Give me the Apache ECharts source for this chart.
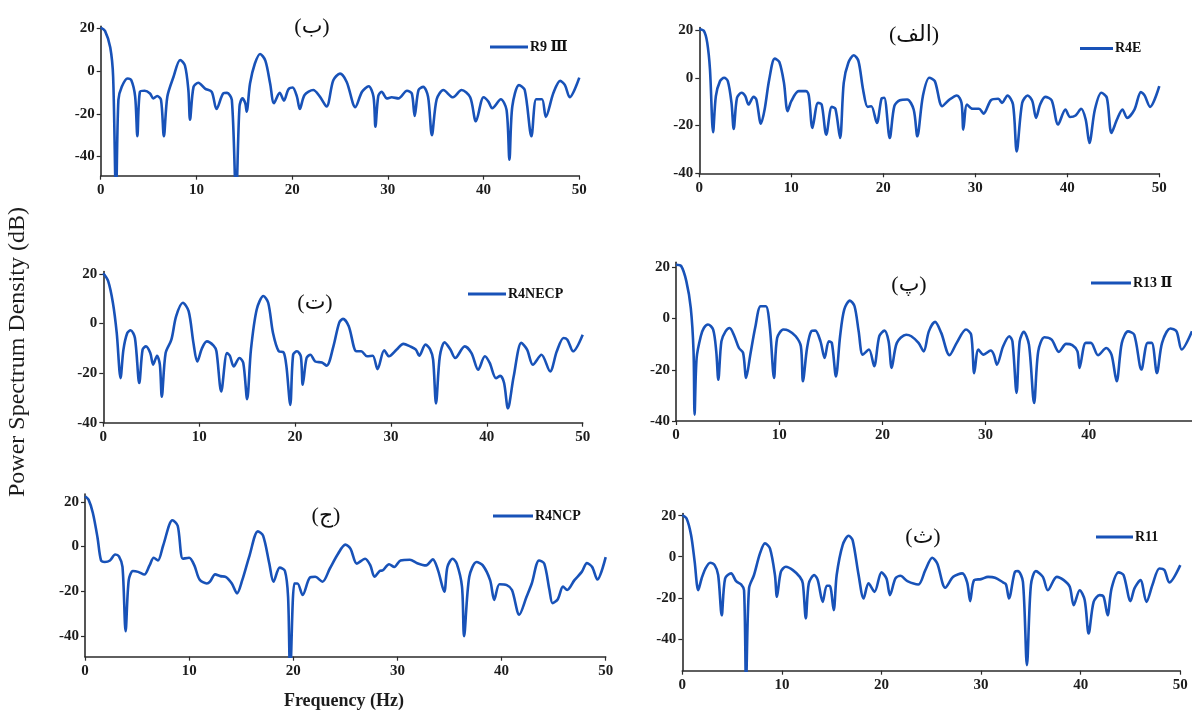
<!DOCTYPE html>
<html>
<head>
<meta charset="utf-8">
<script src="https://cdn.jsdelivr.net/npm/echarts@6/dist/echarts.min.js"></script>
<style>
html,body{margin:0;padding:0;background:#fff;}
#chart{width:1192px;height:713px;}
</style>
</head>
<body>
<div id="chart"></div>
<script>
// ---------- DATA (frequency Hz, PSD dB) ----------
const xTicks = [0, 10, 20, 30, 40, 50];
const yTicks = [-40, -20, 0, 20];

const seriesNames = ['R9 Ⅲ', 'R4E', 'R4NECP', 'R13 Ⅱ', 'R4NCP', 'R11'];
const panelTags = ['(ب)', '(الف)', '(ت)', '(پ)', '(ج)', '(ث)'];

const psdR9 = [[0,20.3],[0.45,18.8],[1.0,11],[1.3,-2.8],[1.6,-60],[1.85,-13.5],[2.2,-7.4],[2.8,-3.5],[3.2,-4.3],[3.6,-12],[3.83,-30.5],[4.1,-9.7],[4.6,-9.2],[5.15,-10.5],[5.5,-12.8],[5.9,-11.7],[6.3,-13.5],[6.6,-30.5],[6.96,-12],[7.6,-2.8],[8.3,5.2],[8.8,2.6],[9.16,-8.9],[9.33,-22.8],[9.7,-7.4],[10.2,-5.5],[10.9,-8.2],[11.6,-9.7],[12.1,-17.8],[12.8,-10.5],[13.2,-10.2],[13.7,-13.5],[14.14,-60],[14.5,-16.6],[14.8,-12.8],[15.1,-15],[15.25,-19],[15.6,-5.8],[16.1,3.4],[16.65,8],[17.2,4.9],[17.7,-5.8],[18.1,-15],[18.7,-10.2],[19.15,-13.8],[19.6,-8.6],[20.05,-7.7],[20.5,-12],[20.8,-17.8],[21.3,-11.2],[22.2,-8.9],[22.9,-12],[23.6,-16.6],[24.3,-4.3],[25.0,-1.2],[25.7,-5.1],[26.6,-16.9],[27.3,-9.7],[28.0,-7.1],[28.5,-12],[28.7,-26],[29.0,-11.7],[29.35,-9.7],[29.9,-12.8],[30.4,-12.3],[31.1,-12.8],[32.0,-9.2],[32.5,-10.5],[32.8,-21],[33.2,-8.9],[33.7,-7.4],[34.2,-12],[34.6,-30],[35.1,-13.2],[35.8,-8.9],[36.8,-12.3],[37.7,-8.9],[38.6,-12.3],[39.2,-23.5],[40.0,-12.3],[40.5,-14.3],[40.9,-17.4],[41.8,-13.2],[42.4,-18.2],[42.7,-41.5],[43.0,-16.6],[43.7,-6.6],[44.3,-8.9],[45.0,-30.5],[45.5,-13.2],[46.1,-13.2],[46.5,-21.5],[47.3,-10.2],[48.0,-4.6],[48.5,-6.6],[49.0,-12.3],[50,-3.1]];

const psdR4E = [[0,20.3],[0.5,19.6],[0.86,14.7],[1.16,3.5],[1.5,-22.8],[1.8,-7.7],[2.25,-1.4],[2.7,0],[3.1,-1.4],[3.5,-10.5],[3.74,-21.4],[4.1,-8.4],[4.6,-6.3],[5.0,-7.7],[5.35,-11.2],[5.9,-8],[6.2,-9.1],[6.7,-19.2],[7.1,-13.3],[7.6,-0.7],[8.2,8],[8.7,6.6],[9.2,-2.1],[9.6,-14],[10.0,-9.8],[10.8,-5.6],[11.6,-5.6],[11.9,-7.4],[12.3,-21],[12.9,-10.5],[13.3,-11.2],[13.8,-23.8],[14.4,-12.2],[14.8,-13],[15.3,-25.2],[15.7,-2.1],[16.2,6.3],[16.8,9.4],[17.3,7],[17.8,-4.9],[18.3,-12.2],[18.7,-11.9],[19.3,-18.9],[19.8,-8.8],[20.1,-8.4],[20.7,-25.2],[21.2,-11.9],[21.8,-9.4],[22.6,-9.1],[23.3,-13.3],[23.7,-24.5],[24.3,-7.7],[25.0,0],[25.6,-1.4],[26.4,-11.9],[27.2,-9.1],[28.0,-7.4],[28.5,-10.5],[28.7,-21.7],[29.1,-11.2],[29.7,-13],[30.4,-13],[30.9,-15],[31.7,-9.4],[32.5,-8.8],[32.9,-10.5],[33.5,-7.4],[34.1,-11.2],[34.5,-30.8],[35.1,-10.5],[35.7,-7.4],[36.2,-9.8],[36.6,-16.8],[37.05,-11.2],[37.6,-8],[38.3,-9.4],[39.0,-19.6],[39.8,-13.3],[40.3,-16.4],[40.9,-15.8],[41.5,-13],[42.0,-17.5],[42.4,-27.3],[43.0,-13.3],[43.7,-6.3],[44.3,-8.4],[44.8,-23.1],[45.4,-17.5],[46.0,-13.3],[46.5,-16.8],[47.3,-13.3],[48.0,-6],[48.4,-7.4],[49.0,-12.2],[50,-3.5]];

const psdR4NECP = [[0,20.3],[0.5,17.2],[1.0,8.4],[1.4,-3.8],[1.8,-22],[2.1,-10.5],[2.5,-3.8],[2.85,-2.7],[3.3,-5.8],[3.75,-24],[4.1,-10.5],[4.45,-9.2],[4.9,-11.9],[5.2,-16.6],[5.6,-13],[5.9,-16.6],[6.1,-29.5],[6.5,-11.9],[7.1,-6.5],[7.6,3],[8.3,8.4],[8.9,5],[9.4,-7.8],[9.8,-15.3],[10.3,-9.9],[10.8,-7.2],[11.5,-8.9],[11.8,-11.2],[12.3,-27.4],[12.9,-11.9],[13.2,-13],[13.6,-17.3],[14.2,-13.9],[14.6,-15.9],[15.0,-30.5],[15.4,-10.5],[16.0,5.7],[16.7,11.1],[17.2,8.4],[17.7,-3.8],[18.3,-11.2],[18.8,-11.6],[19.1,-17.3],[19.5,-32.8],[19.8,-12.6],[20.2,-11.2],[20.6,-13.2],[20.8,-24.7],[21.2,-13.9],[21.6,-12.6],[22.1,-15.3],[22.8,-15.7],[23.3,-17],[24.0,-9.2],[24.6,0.3],[25.0,1.9],[25.6,-1.1],[26.4,-11.2],[26.9,-11.2],[27.5,-13.2],[28.1,-13],[28.6,-18.4],[29.3,-10.8],[29.8,-13.2],[30.6,-10.5],[31.3,-8.2],[32.0,-9.2],[32.6,-10.5],[32.95,-13],[33.6,-8.5],[34.1,-10.5],[34.4,-14.6],[34.7,-32.2],[35.1,-13.2],[35.6,-7.6],[36.2,-10.5],[36.7,-13.9],[37.7,-9.2],[38.4,-11.9],[39.1,-18.6],[39.8,-13.2],[40.3,-15.9],[40.96,-22],[41.4,-21.1],[41.8,-24],[42.2,-34.2],[42.8,-21.4],[43.6,-7.8],[44.2,-10.5],[44.8,-16.6],[45.7,-12.6],[46.6,-19.3],[47.3,-11.2],[48.0,-5.8],[48.4,-6.5],[49.0,-11.2],[50,-4.5]];

const psdR13 = [[0,21],[0.5,20.5],[1.0,14.6],[1.43,4.2],[1.7,-12.8],[1.8,-37.5],[2.0,-15.4],[2.4,-6.9],[2.7,-3.7],[3.1,-2.3],[3.6,-4.3],[3.9,-12.8],[4.1,-23.9],[4.4,-8.9],[4.8,-5],[5.2,-3.7],[5.6,-6.3],[6.1,-11.5],[6.5,-13.4],[6.8,-23.2],[7.2,-14.1],[7.7,-3],[8.2,4.8],[8.7,4.8],[9.1,-3.7],[9.5,-23.2],[9.8,-7.6],[10.4,-4.3],[10.9,-4.7],[11.6,-6.9],[12.1,-10.8],[12.3,-24.5],[12.7,-11.5],[13.1,-5],[13.5,-4.7],[14.0,-8.9],[14.4,-15.4],[14.8,-8.9],[15.1,-9.5],[15.5,-22.6],[15.9,-6.9],[16.3,3.5],[16.85,7],[17.3,4.8],[17.7,-5],[18.1,-14.1],[18.7,-12.1],[19.2,-18.6],[19.7,-6.9],[20.2,-4.7],[20.6,-8.9],[20.9,-19.3],[21.4,-9.5],[22.3,-6.3],[22.8,-6.9],[23.5,-9.5],[24.0,-12.8],[24.5,-5],[25.1,-1.3],[25.7,-5.6],[26.5,-14.3],[27.2,-9.5],[28.1,-4.3],[28.6,-6.3],[28.9,-21.3],[29.3,-12.1],[29.8,-14.1],[30.5,-12.5],[30.8,-14.1],[31.1,-18],[31.7,-10.8],[32.3,-6.9],[32.6,-8.9],[33.0,-29],[33.3,-8.9],[33.7,-5.2],[34.2,-10.2],[34.7,-33],[35.1,-12.8],[35.7,-7.3],[36.4,-8.2],[37.1,-13],[37.8,-9.9],[38.4,-10.4],[38.9,-12.8],[39.1,-19.3],[39.7,-9.5],[40.2,-9.5],[40.9,-14.3],[41.7,-11.5],[42.2,-14.1],[42.7,-24.5],[43.2,-9.5],[43.8,-5],[44.4,-6.3],[45.1,-19.9],[45.7,-9.5],[46.1,-9.5],[46.6,-21.3],[47.1,-9.5],[47.9,-3.9],[48.5,-5],[49.0,-12.1],[50,-5]];

const psdR4NCP = [[0,22.5],[0.34,21],[0.75,15.1],[1.2,4.1],[1.54,-6.2],[1.9,-6.9],[2.4,-6.2],[2.9,-3.5],[3.26,-4.4],[3.6,-9.1],[3.9,-37.8],[4.2,-15],[4.6,-10.9],[5.1,-11.3],[5.7,-12.5],[6.2,-8.4],[6.6,-5],[7.0,-6.2],[7.5,0.4],[8.4,11.8],[8.9,9.3],[9.4,-5.4],[10.0,-5],[10.5,-8.4],[11.0,-14.7],[11.7,-16.5],[12.0,-15.7],[12.5,-12.4],[13.0,-13.2],[13.5,-13.5],[14.1,-16.5],[14.6,-20.9],[15.1,-15],[15.8,-4],[16.6,6.8],[17.1,4.9],[17.7,-7.6],[18.1,-15.7],[18.7,-9.4],[19.2,-10.9],[19.5,-22.4],[19.7,-58],[20.1,-16.5],[20.4,-16.5],[20.9,-21.6],[21.6,-13.8],[22.1,-13.5],[22.8,-15.7],[23.5,-9.9],[24.3,-3.2],[25.0,0.9],[25.5,-1],[26.1,-7.6],[26.9,-5.4],[27.4,-8.4],[27.8,-13.5],[28.3,-10.9],[28.6,-10.6],[29.2,-7.9],[29.7,-9.1],[30.3,-6.2],[31.2,-5.9],[31.9,-7.4],[32.75,-8.4],[33.4,-5.7],[33.9,-10.6],[34.5,-20.1],[34.8,-9.1],[35.3,-5.4],[35.7,-7.6],[36.2,-17.9],[36.4,-40],[36.9,-13.5],[37.6,-6.9],[38.2,-8.4],[38.9,-15],[39.3,-23.8],[39.8,-16.8],[40.5,-17.2],[41.0,-19.4],[41.7,-30.4],[42.4,-22.4],[42.9,-16.5],[43.6,-6.2],[44.1,-7.6],[44.6,-19.4],[44.9,-25.3],[45.4,-23.5],[45.9,-17.9],[46.3,-19.4],[47.0,-15],[47.7,-11.3],[48.2,-7.4],[48.7,-9.1],[49.2,-14.7],[50,-4.7]];

const psdR11 = [[0,20.3],[0.42,18.7],[0.88,10.6],[1.24,-2.4],[1.6,-16.3],[1.94,-10.6],[2.3,-6],[2.8,-2.9],[3.25,-4.1],[3.6,-8.9],[3.96,-28.5],[4.3,-10.6],[4.9,-8.1],[5.4,-11.9],[5.9,-13.5],[6.2,-16.3],[6.4,-62],[6.7,-15.4],[7.2,-8.9],[7.8,1.6],[8.3,6.5],[8.8,4.1],[9.3,-8.9],[9.5,-19.5],[9.9,-7.3],[10.4,-4.9],[11.1,-6.5],[11.8,-9.8],[12.1,-13],[12.4,-30],[12.7,-13],[13.25,-8.9],[13.6,-11.4],[14.1,-22],[14.5,-14.1],[14.8,-14.1],[15.2,-26],[15.5,-8.9],[16.1,5.7],[16.7,10.2],[17.1,8.1],[17.7,-8.9],[18.2,-20.3],[18.7,-13],[19.3,-17.1],[20.0,-7.6],[20.5,-10.6],[20.85,-18.7],[21.4,-10.6],[21.9,-9.3],[22.6,-11.9],[23.7,-13.5],[24.4,-6.5],[25.1,-0.5],[25.6,-3.3],[26.4,-15.1],[27.2,-9.8],[28.1,-8.1],[28.6,-12.5],[28.9,-21.6],[29.3,-11.4],[30.0,-10.9],[30.7,-9.8],[31.4,-10.2],[32.2,-12.5],[32.5,-13.5],[32.8,-20.3],[33.4,-7.3],[33.7,-7],[34.2,-12.2],[34.6,-52.8],[35.0,-13.8],[35.5,-7],[36.2,-9.8],[36.7,-16.3],[37.6,-9.8],[38.3,-11.4],[38.9,-14.6],[39.3,-23.6],[39.9,-16.3],[40.4,-21.1],[40.8,-37.4],[41.3,-22],[41.9,-18.7],[42.3,-19.5],[42.7,-28.5],[43.1,-15.4],[43.8,-7.6],[44.3,-8.9],[45.0,-21.6],[45.4,-15.4],[46.0,-11.4],[46.6,-22],[47.2,-13.8],[47.9,-5.7],[48.4,-6.5],[48.9,-12.5],[50,-4.1]];

const panelData = [psdR9, psdR4E, psdR4NECP, psdR13, psdR4NCP, psdR11];

// ---------- LAYOUT ----------
const grids = [
  {left: 100.7, top: 26.2, width: 478.6, height: 149.5},
  {left: 699.3, top: 27.6, width: 460, height: 145.7},
  {left: 103.3, top: 271.5, width: 479.4, height: 151.2},
  {left: 676, top: 262.2, width: 516, height: 158.8},
  {left: 85, top: 494, width: 520.7, height: 162.7},
  {left: 682.3, top: 513.6, width: 498, height: 157.1}
];
const yRanges = [[-49, 21], [-40, 21], [-40, 21], [-40, 22], [-49.2, 23.5], [-55.5, 21]];
const legendPos = [
  {left: 490, top: 40, w: 38},
  {left: 1080, top: 41.5, w: 33},
  {left: 468, top: 287, w: 38},
  {left: 1091, top: 276, w: 40},
  {left: 493, top: 509, w: 40},
  {left: 1096, top: 530, w: 37}
];
const tagPos = [[312, 27], [914, 35], [315, 303], [909, 285], [326, 516], [923, 537]];

const serif = '"Liberation Serif", "Times New Roman", "DejaVu Serif", "DejaVu Sans", serif';
const lineColor = '#1852b8';
const axisColor = '#2b2b2b';

const option = {
  backgroundColor: '#ffffff',
  animation: false,
  grid: grids.map(g => Object.assign({containLabel: false}, g)),
  xAxis: grids.map((g, i) => ({
    type: 'value', gridIndex: i, min: 0, max: 50, interval: 10,
    axisLine: {show: true, onZero: false, lineStyle: {color: axisColor, width: 1.6}},
    axisTick: {show: true, length: 4, lineStyle: {color: axisColor, width: 1.2}},
    axisLabel: {
      show: true, margin: 7, color: '#1c1c1c', fontFamily: serif, fontWeight: 'bold', fontSize: 15,
      showMaxLabel: i !== 3,
      formatter: v => xTicks.indexOf(v) >= 0 ? String(v) : ''
    },
    splitLine: {show: false}
  })),
  yAxis: grids.map((g, i) => ({
    type: 'value', gridIndex: i, min: yRanges[i][0], max: yRanges[i][1],
    axisLine: {show: true, onZero: false, lineStyle: {color: axisColor, width: 1.6}},
    axisTick: {show: true, length: 4, customValues: yTicks, lineStyle: {color: axisColor, width: 1.2}},
    axisLabel: {
      show: true, margin: 6, color: '#1c1c1c', fontFamily: serif, fontWeight: 'bold', fontSize: 15,
      customValues: yTicks
    },
    splitLine: {show: false}
  })),
  legend: legendPos.map((p, i) => ({
    data: [seriesNames[i]],
    left: p.left, top: p.top, padding: 0,
    icon: 'rect', itemWidth: p.w, itemHeight: 3,
    selectedMode: false,
    textStyle: {fontFamily: serif, fontWeight: 'bold', fontSize: 14, color: '#111', padding: [0, 0, 0, -3]}
  })),
  series: panelData.map((d, i) => ({
    name: seriesNames[i], type: 'line', xAxisIndex: i, yAxisIndex: i,
    data: d, showSymbol: false, symbol: 'none',
    smooth: 0.3, clip: true,
    lineStyle: {color: lineColor, width: 2.6},
    itemStyle: {color: lineColor}
  })),
  graphic: [
    ...tagPos.map((p, i) => ({
      type: 'text', x: p[0], y: p[1], silent: true,
      style: {text: panelTags[i], fill: '#111', font: '22px ' + serif, textAlign: 'center', textVerticalAlign: 'middle'}
    })),
    {
      type: 'text', x: 18, y: 352, rotation: Math.PI / 2, silent: true,
      style: {text: 'Power Spectrum Density (dB)', fill: '#1c1c1c', font: '24px ' + serif, textAlign: 'center', textVerticalAlign: 'middle'}
    },
    {
      type: 'text', x: 344, y: 701, silent: true,
      style: {text: 'Frequency (Hz)', fill: '#1c1c1c', font: 'bold 18px ' + serif, textAlign: 'center', textVerticalAlign: 'middle'}
    }
  ]
};

const chart = echarts.init(document.getElementById('chart'), null, {renderer: 'canvas'});
chart.setOption(option);
</script>
</body>
</html>
